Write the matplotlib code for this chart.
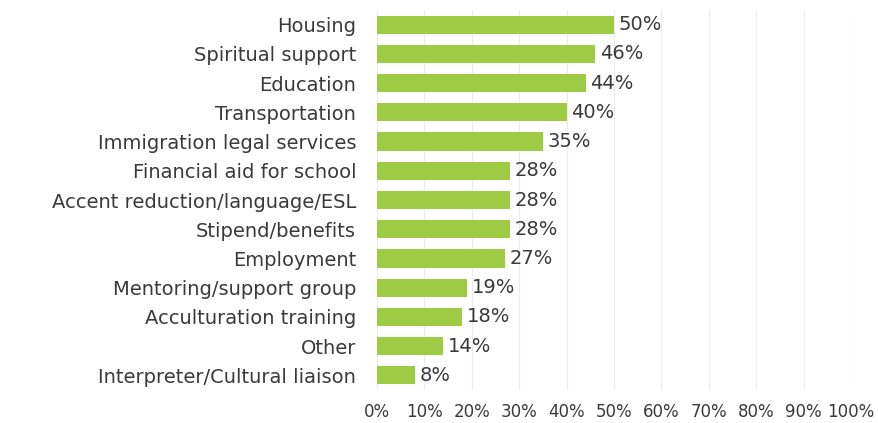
import matplotlib
matplotlib.use("Agg")
import matplotlib.pyplot as plt
from matplotlib.ticker import MultipleLocator, FuncFormatter

categories = ["Housing", "Spiritual support", "Education", "Transportation",
              "Immigration legal services", "Financial aid for school",
              "Accent reduction/language/ESL", "Stipend/benefits", "Employment",
              "Mentoring/support group", "Acculturation training", "Other",
              "Interpreter/Cultural liaison"]
values = [50, 46, 44, 40, 35, 28, 28, 28, 27, 19, 18, 14, 8]

plt.rcParams['font.family'] = ['DejaVu Sans']
text_color = "#3a3a3a"

fig = plt.figure(figsize=(8.79, 4.23), dpi=100)
ax = fig.add_axes([377/879, 1-390/423, (851-377)/879, (390-10)/423])

y = list(range(len(categories)))
ax.barh(y, values, height=0.62, color="#9dcb43", zorder=3)
for yi, v in zip(y, values):
    ax.text(v + 1, yi, f"{v}%", va="center", ha="left", fontsize=14, color=text_color, zorder=4)

ax.set_yticks(y)
ax.set_yticklabels(categories, fontsize=14, color=text_color)
ax.set_ylim(len(categories) - 0.5, -0.5)
ax.set_xlim(0, 100)
ax.xaxis.set_major_locator(MultipleLocator(10))
ax.xaxis.set_major_formatter(FuncFormatter(lambda v, p: f"{int(v)}%"))
ax.tick_params(axis='x', labelsize=12, colors=text_color, length=0, pad=9)
ax.tick_params(axis='y', length=0, pad=15)
ax.grid(axis='x', color="#ececec", linewidth=0.8, zorder=0)
for s in ax.spines.values():
    s.set_visible(False)

fig.savefig("out.png", dpi=100)
